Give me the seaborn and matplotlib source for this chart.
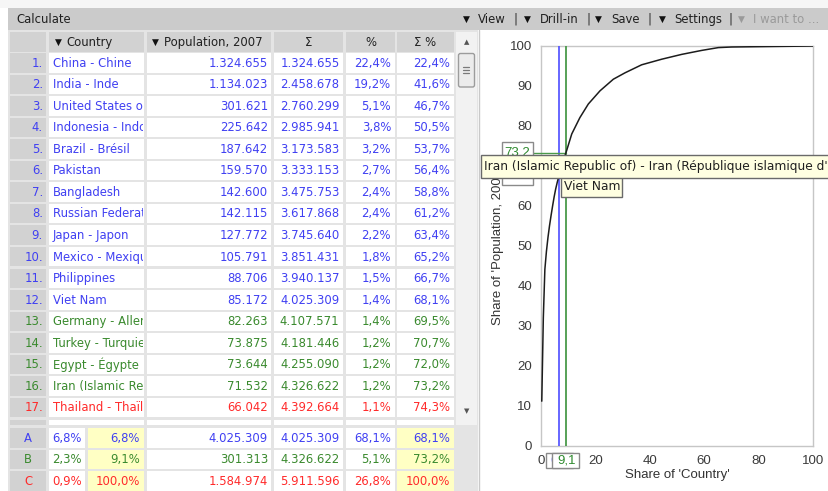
import numpy as np
import pandas as pd
import matplotlib
matplotlib.use("Agg")
import matplotlib.pyplot as plt
from matplotlib.patches import Rectangle, FancyBboxPatch
from matplotlib.transforms import Bbox
import seaborn as sns

# ---------------- data ----------------
countries = ["China - Chine", "India - Inde", "United States of America - États-Unis d'Amérique",
             "Indonesia - Indonésie", "Brazil - Brésil", "Pakistan", "Bangladesh",
             "Russian Federation - Fédération de Russie", "Japan - Japon", "Mexico - Mexique",
             "Philippines", "Viet Nam", "Germany - Allemagne", "Turkey - Turquie",
             "Egypt - Égypte", "Iran (Islamic Republic of) - Iran (République islamique d'Iran)",
             "Thailand - Thaïlande"]
population = [1324655, 1134023, 301621, 225642, 187642, 159570, 142600, 142115, 127772,
              105791, 88706, 85172, 82263, 73875, 73644, 71532, 66042]
cumulative = [1324655, 2458678, 2760299, 2985941, 3173583, 3333153, 3475753, 3617868,
              3745640, 3851431, 3940137, 4025309, 4107571, 4181446, 4255090, 4326622, 4392664]
pct = [22.4, 19.2, 5.1, 3.8, 3.2, 2.7, 2.4, 2.4, 2.2, 1.8, 1.5, 1.4, 1.4, 1.2, 1.2, 1.2, 1.1]
cum_pct = [22.4, 41.6, 46.7, 50.5, 53.7, 56.4, 58.8, 61.2, 63.4, 65.2, 66.7, 68.1, 69.5,
           70.7, 72.0, 73.2, 74.3]
row_class = ["A"] * 12 + ["B"] * 4 + ["C"]
total_population = 5911596
n_countries = 176

class_names = ["A", "B", "C"]
class_count_pct = ["6,8%", "2,3%", "0,9%"]
class_count_cum = ["6,8%", "9,1%", "100,0%"]
class_pop = [4025309, 301313, 1584974]
class_pop_cum = [4025309, 4326622, 5911596]
class_pct = ["68,1%", "5,1%", "26,8%"]
class_pct_cum = ["68,1%", "73,2%", "100,0%"]
share_A_count, share_B_count = 6.8, 9.1
share_A_pop, share_B_pop = 68.1, 73.2

# tail of the curve (share of countries, share of population)
tail_x = [11.3, 14.3, 17.4, 21.7, 26.6, 30.9, 37.0, 44.4, 51.7, 59.1, 65.2, 70.1, 100.0]
tail_y = [78.0, 82.1, 85.5, 88.8, 91.7, 93.3, 95.3, 96.7, 97.9, 98.9, 99.6, 99.75, 100.0]

# ---------------- style ----------------
sns.set_style("white")
plt.rcParams["font.family"] = ["Liberation Sans", "DejaVu Sans"]

W, H = 829, 491
fig = plt.figure(figsize=(W / 100, H / 100), dpi=100)
fig.patch.set_facecolor("white")

BLUE, GREEN, RED = "#4040f2", "#3a8a2e", "#ff2a2a"
cls_color = {"A": BLUE, "B": GREEN, "C": RED}
TF = ["DejaVu Sans"]
CF = ["Liberation Sans", "DejaVu Sans"]
FS = 8.4

ui = fig.add_axes([0, 0, 1, 1], zorder=0)
ui.set_xlim(0, W); ui.set_ylim(H, 0); ui.axis("off")


def box(a, x0, y0, x1, y1, fc, ec="none", lw=0.0, z=1):
    r = Rectangle((x0, y0), x1 - x0, y1 - y0, facecolor=fc, edgecolor=ec, linewidth=lw, zorder=z)
    a.add_patch(r)
    return r


def label(a, x, y, s, ha="left", color="#202020", size=FS, clip=None, z=3, family=TF):
    t = a.text(x, y, s, ha=ha, va="center", color=color, fontsize=size, family=family, zorder=z)
    if clip is not None:
        x0, y0, x1, y1 = clip
        t.set_clip_path(None)
        t.set_clip_box(Bbox.from_extents(x0, H - y1, x1, H - y0))
        t.set_clip_on(True)
    return t


def fmt_int(v):
    return f"{v:,}".replace(",", ".")


def fmt_pct(v):
    return f"{v:.1f}%".replace(".", ",")


# backgrounds
box(ui, 0, 0, W, 8, "#f6f6f6")
box(ui, 8, 8, W, 30, "#cbcbcb")
box(ui, 8, 30, 478, H, "#e4e4e4")
box(ui, 478, 30, W, H, "white")
ui.plot([479, 479], [30, H], color="#c9c9c9", lw=1, zorder=2)

# toolbar
label(ui, 16, 19, "Calculate", size=8.4)
tool_items = [("▼", 466.5, "#111111", 6.5), ("View", 478, "#202020", 8.4), ("|", 515.5, "#303030", 8.4),
              ("▼", 527.5, "#111111", 6.5), ("Drill-in", 540, "#202020", 8.4), ("|", 589, "#303030", 8.4),
              ("▼", 598.5, "#111111", 6.5), ("Save", 611.5, "#202020", 8.4), ("|", 650, "#303030", 8.4),
              ("▼", 662, "#111111", 6.5), ("Settings", 674, "#202020", 8.4), ("|", 730.5, "#303030", 8.4),
              ("▼", 741.5, "#9a9a9a", 6.5), ("I want to ...", 753, "#9a9a9a", 8.4)]
for s, x, c, fs in tool_items:
    label(ui, x, 19, s, ha="center" if s in ("▼", "|") else "left", color=c, size=fs)

# columns
cols = {"num": (10, 46), "country": (49, 144), "pop": (147, 271), "sig": (274, 343),
        "pct": (346, 395), "cpct": (397, 454)}
HEAD_GRAY = "#d2d2d2"

# header
for k, (x0, x1) in cols.items():
    box(ui, x0, 32, x1, 52, HEAD_GRAY)
label(ui, 58.5, 42, "▼", ha="center", color="#111111", size=6.5)
label(ui, 66, 42, "Country")
label(ui, 155.5, 42, "▼", ha="center", color="#111111", size=6.5)
label(ui, 164, 42, "Population, 2007")
label(ui, 308.5, 42, "Σ", ha="center")
label(ui, 370.5, 42, "%", ha="center")
label(ui, 425.5, 42, "Σ %", ha="center")

# data rows
pitch, rh = 21.55, 19.5
for i in range(len(countries)):
    top = 53 + i * pitch
    cy = top + rh / 2 + 0.3
    c = cls_color[row_class[i]]
    for k, (x0, x1) in cols.items():
        box(ui, x0, top, x1, top + rh, HEAD_GRAY if k == "num" else "white")
    label(ui, 43, cy, f"{i + 1}.", ha="right", color=c)
    x0, x1 = cols["country"]
    label(ui, 53, cy, countries[i], color=c, clip=(x0, top, x1 - 1, top + rh))
    label(ui, 268, cy, fmt_int(population[i]), ha="right", color=c)
    label(ui, 339.5, cy, fmt_int(cumulative[i]), ha="right", color=c)
    label(ui, 391, cy, fmt_pct(pct[i]), ha="right", color=c)
    label(ui, 450, cy, fmt_pct(cum_pct[i]), ha="right", color=c)

# partially visible next row
for k, (x0, x1) in cols.items():
    box(ui, x0, 420, x1, 424.5, HEAD_GRAY if k == "num" else "white")

# summary rows
YELLOW = "#ffffc4"
sum_cells = [("num", (10, 46), HEAD_GRAY), ("cnt", (49, 85), "white"), ("ccnt", (88, 144), YELLOW),
             ("pop", (147, 271), "white"), ("sig", (274, 343), "white"),
             ("pct", (346, 395), "white"), ("cpct", (397, 454), YELLOW)]
for j, name in enumerate(class_names):
    top = 428 + j * 21.5
    cy = top + rh / 2 + 0.3
    c = cls_color[name]
    for _, (x0, x1), fc in sum_cells:
        box(ui, x0, top, x1, top + rh, fc)
    label(ui, 28, cy, name, ha="center", color=c)
    label(ui, 82, cy, class_count_pct[j], ha="right", color=c)
    label(ui, 140, cy, class_count_cum[j], ha="right", color=c)
    label(ui, 268, cy, fmt_int(class_pop[j]), ha="right", color=c)
    label(ui, 339.5, cy, fmt_int(class_pop_cum[j]), ha="right", color=c)
    label(ui, 391, cy, class_pct[j], ha="right", color=c)
    label(ui, 450, cy, class_pct_cum[j], ha="right", color=c)

# scrollbar
box(ui, 456, 32, 477, 425, "#f2f2f2")
label(ui, 466.5, 42, "▲", ha="center", color="#555555", size=5)
label(ui, 466.5, 411, "▼", ha="center", color="#555555", size=5)
ui.add_patch(FancyBboxPatch((458.5, 53.5), 16, 33.5, boxstyle="round,pad=0,rounding_size=2",
                            facecolor="#ececec", edgecolor="#9c9c9c", linewidth=1, zorder=2))
for gy in (66.5, 69.5, 72.5):
    ui.plot([463.5, 469.5], [gy, gy], color="#7a7a7a", lw=0.9, zorder=3)

# ---------------- chart ----------------
ranks = np.arange(1, len(population) + 1)
head_x = list((ranks - 0.5) / n_countries * 100)
head_y = list((np.array(cumulative) - np.array(population) / 2) / total_population * 100)
curve = pd.DataFrame({"share_country": head_x + tail_x, "share_pop": head_y + tail_y})

ax = fig.add_axes([541 / W, 1 - 446 / H, 272 / W, 400 / H], zorder=2)
ax.set_facecolor("white")
sns.lineplot(data=curve, x="share_country", y="share_pop", ax=ax, color="#1c1c1c",
             linewidth=1.1, sort=False, estimator=None, zorder=4)
ax.set_xlim(0, 100); ax.set_ylim(0, 100)
ax.set_xticks(range(0, 101, 20)); ax.set_yticks(range(0, 101, 10))
for s in ax.spines.values():
    s.set_color("#c6c6c6"); s.set_linewidth(1)
ax.tick_params(axis="both", direction="out", length=3, width=1, color="#c6c6c6",
               labelcolor="#3a3a3a", labelsize=9.5, pad=3.5)
ax.set_xlabel("Share of 'Country'", fontsize=9.5, color="#333333", labelpad=1.5)
ax.set_ylabel("Share of 'Population, 2007'", fontsize=9.5, color="#333333", labelpad=4)

LBLUE, LGREEN = "#5a5aff", "#4a9a4a"
ax.axvline(share_A_count, color=LBLUE, lw=1.3, zorder=3)
ax.axvline(share_B_count, color=LGREEN, lw=1.3, zorder=3)
ax.plot([-3, share_A_count], [share_A_pop, share_A_pop], color=LBLUE, lw=1, clip_on=False, zorder=3)
ax.plot([-3, share_B_count], [share_B_pop, share_B_pop], color=LGREEN, lw=1, clip_on=False, zorder=3)

# ---------------- overlay (value boxes + tooltips) ----------------
ov = fig.add_axes([0, 0, 1, 1], zorder=5)
ov.set_xlim(0, W); ov.set_ylim(H, 0); ov.axis("off")


def to_px(x, y):
    dx, dy = ax.transData.transform((x, y))
    return dx, H - dy


x_axis0, y_axis0 = to_px(0, 0)
z = 2
for val, col in [(share_A_pop, LBLUE), (share_B_pop, "#2e8a2e")]:
    _, yy = to_px(0, val)
    box(ov, x_axis0 - 39, yy - 11, x_axis0 - 8, yy + 11, "white", "#8a8a8a", 1, z=z)
    label(ov, x_axis0 - 23.5, yy, f"{val:.1f}", ha="center", color=col, size=9.5, family=CF, z=z + 1)
    z += 2

for val, col in [(share_A_count, LBLUE), (share_B_count, "#2e8a2e")]:
    xx, _ = to_px(val, 0)
    box(ov, xx - 13.5, y_axis0 + 7, xx + 13.5, y_axis0 + 22, "white", "#8a8a8a", 1, z=z)
    label(ov, xx + 0.5, y_axis0 + 14.5, f"{val:.1f}".replace(".", ","), ha="center", color=col,
          size=9.5, family=CF, z=z + 1)
    z += 2

TIP = "#ffffe1"
box(ov, 561, 175, 622, 197, TIP, "#6a6a6a", 1, z=20)
label(ov, 564, 187, countries[11], color="#202020", size=8.8, z=21)
box(ov, 481.5, 155, 840, 177.5, TIP, "#6a6a6a", 1, z=22)
label(ov, 484, 166.5, countries[15], color="#202020", size=8.8, z=23)

fig.savefig("out.png", dpi=100, facecolor="white")
